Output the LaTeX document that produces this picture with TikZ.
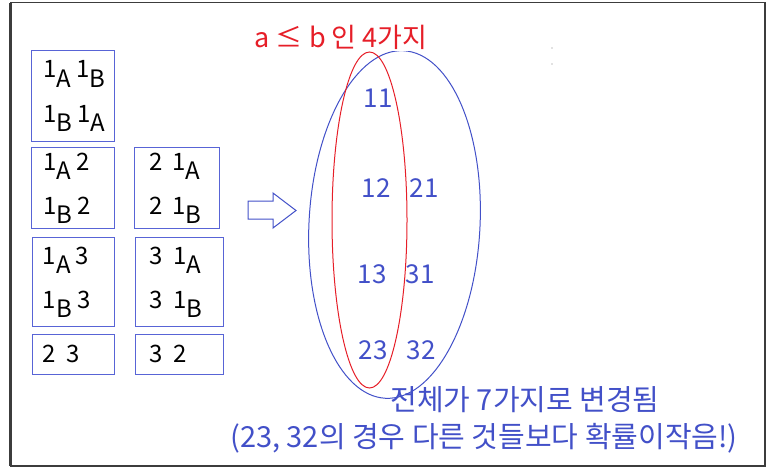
\documentclass[tikz,border=0pt]{standalone}
\usepackage{fontspec}
\setmainfont{Noto Sans CJK KR}
\usepackage{xcolor}
\usetikzlibrary{positioning}
\definecolor{setblue}{RGB}{66,80,200}
\definecolor{boxblue}{RGB}{88,100,214}
\definecolor{setred}{RGB}{230,30,40}
\definecolor{framegray}{RGB}{60,60,60}
\newcommand{\lowsub}[1]{\raisebox{-0.38em}{#1}}
\newcommand{\wsp}{\hspace{0.42em}}
\tikzset{
	pairbox/.style={rectangle, draw=boxblue, line width=1pt, inner sep=0pt},
	pairtext/.style={anchor=west, align=left, inner sep=0pt, font=\fontsize{24}{44}\selectfont},
	num_label/.style={font=\fontsize{26}{30}\selectfont, text=setblue, inner sep=0pt},
	set_all/.style={draw=setblue, line width=1pt},
	set_sub/.style={draw=setred, line width=1pt},
	note_label/.style={font=\fontsize{29}{32}\selectfont, text=setblue, inner sep=0pt}
}

\begin{document}
\begin{tikzpicture}[x=1pt, y=-1pt]
	\useasboundingbox (0,0) rectangle (770,469);
	\draw[framegray, line width=1.4pt] (10.5,2.5) rectangle (765,466);
	\draw[framegray, line width=2.5pt] (10.5,2.5) -- (10.5,466);
	% left column of cases
	\node[pairbox, anchor=north west, minimum width=83pt, minimum height=91pt] (b11) at (31,50) {};
	\node[pairbox, below=5pt of b11, minimum width=83pt, minimum height=81pt] (b12) {};
	\node[pairbox, below=8pt of b12, minimum width=82pt, minimum height=89pt] (b13) {};
	\node[pairbox, below=7pt of b13, minimum width=82pt, minimum height=40pt] (b23) {};
	% right column of cases
	\node[pairbox, right=19pt of b12, minimum width=85pt, minimum height=81pt] (b21) {};
	\node[pairbox, right=20pt of b13, minimum width=88pt, minimum height=89pt] (b31) {};
	\node[pairbox, right=20pt of b23, minimum width=88pt, minimum height=40pt] (b32) {};
	\node[pairtext] (t11) at ([xshift=12pt]b11.west) {1\lowsub{A} 1\lowsub{B}\\1\lowsub{B} 1\lowsub{A}};
	\node[pairtext] (t12) at ([xshift=12pt]b12.west) {1\lowsub{A} 2\\1\lowsub{B} 2};
	\node[pairtext] (t13) at ([xshift=11pt]b13.west) {1\lowsub{A} 3\\1\lowsub{B} 3};
	\node[pairtext] (t23) at ([xshift=11pt,yshift=1pt]b23.west) {2\wsp 3};
	\node[pairtext] (t21) at ([xshift=15pt]b21.west) {2\wsp 1\lowsub{A}\\2\wsp 1\lowsub{B}};
	\node[pairtext] (t31) at ([xshift=15pt]b31.west) {3\wsp 1\lowsub{A}\\3\wsp 1\lowsub{B}};
	\node[pairtext] (t32) at ([xshift=15pt,yshift=1pt]b32.west) {3\wsp 2};
	% block arrow
	\draw[setblue, line width=1pt] (248,201) -- (273,201) -- (273,193) -- (296,210.5) -- (273,228) -- (273,219) -- (248,219) -- cycle;
	% sets
	\draw[set_all, rotate around={-3:(394.5,224.5)}] (394.5,224.5) ellipse [x radius=85.5pt, y radius=174pt];
	\node[font=\fontsize{27}{30}\selectfont, text=setred, fill=white, inner sep=2pt] (title) at (341,37) {a ≤ b 인 4가지};
	\draw[set_sub] (369.5,220) ellipse [x radius=37.5pt, y radius=168pt];
	\fill[gray] (552,48) circle (0.7pt) (552,64) circle (0.7pt);
	\node[num_label] (n11) at (378,98) {11};
	\node[num_label] (n12) at (376,188) {12};
	\node[num_label] (n21) at (424,188) {21};
	\node[num_label] (n13) at (372,274) {13};
	\node[num_label] (n31) at (420,274) {31};
	\node[num_label] (n23) at (373,350) {23};
	\node[num_label] (n32) at (421,350) {32};
	\node[note_label] (total) at (525,400) {전체가 7가지로 변경됨};
	\node[note_label] (remark) at (484,438) {(23, 32의 경우 다른 것들보다 확률이작음!)};
\end{tikzpicture}
\end{document}
